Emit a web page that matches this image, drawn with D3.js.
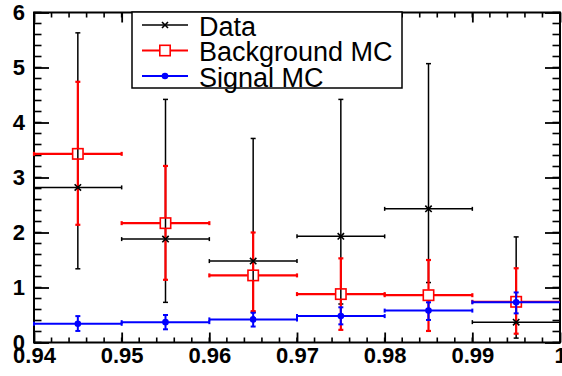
<!DOCTYPE html>
<html><head><meta charset="utf-8">
<script src="https://cdn.jsdelivr.net/npm/d3@7"></script>
<style>
html,body{margin:0;padding:0;background:#fff;}
svg{display:block;}
text{font-family:"Liberation Sans",Arial,Helvetica,sans-serif;}
</style></head>
<body>
<svg id="c" width="562" height="376"></svg>
<script>
// ---- data ----
const binEdges = [0.94, 0.95, 0.96, 0.97, 0.98, 0.99, 1.0];
const dataY  = [2.82, 1.88, 1.48, 1.93, 2.43, 0.37];
const dataHi = [5.63, 4.42, 3.71, 4.42, 5.07, 1.92];
const dataLo = [1.34, 0.73, 0.55, 0.70, 1.09, 0.08];
const bkgY   = [3.43, 2.17, 1.22, 0.88, 0.86, 0.74];
const bkgHi  = [4.74, 3.21, 2.00, 1.53, 1.50, 1.35];
const bkgLo  = [2.14, 1.14, 0.57, 0.23, 0.21, 0.16];
const sigY   = [0.34, 0.37, 0.42, 0.48, 0.58, 0.73];
const sigHi  = [0.48, 0.50, 0.54, 0.64, 0.73, 0.91];
const sigLo  = [0.21, 0.24, 0.29, 0.33, 0.41, 0.53];
const xTickValues = [0.94, 0.95, 0.96, 0.97, 0.98, 0.99, 1.0];
const xTickLabels = ["0.94", "0.95", "0.96", "0.97", "0.98", "0.99", "1"];
const yTickValues = [0, 1, 2, 3, 4, 5, 6];
const yTickLabels = ["0", "1", "2", "3", "4", "5", "6"];
const legendLabels = ["Data", "Background MC", "Signal MC"];

// ---- layout ----
const L = 34, R = 560, T = 12.5, B = 342.5;
const svg = d3.select("#c");
const x = d3.scaleLinear().domain([0.94, 1.0]).range([L, R]);
const y = d3.scaleLinear().domain([0, 6]).range([B, T]);

const xMinor = d3.range(0, 31).map(i => 0.94 + i * 0.002);
const yMinor = d3.range(0, 31).map(i => i * 0.2);

// minor ticks
const g = svg.append("g");
function ticks(vals, len, orient) {
  vals.forEach(v => {
    if (orient === "b") g.append("line").attr("x1", x(v)).attr("x2", x(v)).attr("y1", B).attr("y2", B - len);
    if (orient === "t") g.append("line").attr("x1", x(v)).attr("x2", x(v)).attr("y1", T).attr("y2", T + len);
    if (orient === "l") g.append("line").attr("y1", y(v)).attr("y2", y(v)).attr("x1", L).attr("x2", L + len);
    if (orient === "r") g.append("line").attr("y1", y(v)).attr("y2", y(v)).attr("x1", R).attr("x2", R - len);
  });
}
ticks(xMinor, 5, "b"); ticks(xMinor, 5, "t");
ticks(yMinor, 7.5, "l"); ticks(yMinor, 7.5, "r");
g.selectAll("line").attr("stroke", "#000").attr("stroke-width", 1.6);

// major axes via d3
const xAxis = svg.append("g").attr("transform", `translate(0,${B})`)
  .call(d3.axisBottom(x).tickValues(xTickValues).tickSize(-10).tickPadding(5)
    .tickFormat((d, i) => xTickLabels[i]));
const xAxisTop = svg.append("g").attr("transform", `translate(0,${T})`)
  .call(d3.axisTop(x).tickValues(xTickValues).tickSize(-10).tickFormat(""));
const yAxis = svg.append("g").attr("transform", `translate(${L},0)`)
  .call(d3.axisLeft(y).tickValues(yTickValues).tickSize(-15).tickPadding(9)
    .tickFormat((d, i) => yTickLabels[i]));
const yAxisR = svg.append("g").attr("transform", `translate(${R},0)`)
  .call(d3.axisRight(y).tickValues(yTickValues).tickSize(-15).tickFormat(""));
[xAxis, xAxisTop, yAxis, yAxisR].forEach(a => {
  a.select(".domain").remove();
  a.selectAll("line").attr("stroke", "#000").attr("stroke-width", 1.8);
  a.selectAll("text").attr("font-size", 22).attr("font-weight", "bold").attr("fill", "#000")
    .attr("font-family", "'Liberation Sans',Arial,sans-serif");
});

// frame
svg.append("rect").attr("x", L).attr("y", T).attr("width", R - L).attr("height", B - T)
  .attr("fill", "none").attr("stroke", "#000").attr("stroke-width", 2);

// ---- error bars ----
const plot = svg.append("g");
function errBars(vals, hi, lo, color, sw, gap) {
  const gg = plot.append("g").attr("stroke", color).attr("stroke-width", sw).attr("fill", "none");
  vals.forEach((v, i) => {
    const x0 = x(binEdges[i]), x1 = x(binEdges[i + 1]);
    const xc = x((binEdges[i] + binEdges[i + 1]) / 2);
    const yc = y(v), yh = y(hi[i]), yl = y(lo[i]);
    // horizontal
    gg.append("line").attr("x1", x0).attr("x2", xc - gap).attr("y1", yc).attr("y2", yc);
    gg.append("line").attr("x1", xc + gap).attr("x2", x1).attr("y1", yc).attr("y2", yc);
    // vertical
    gg.append("line").attr("x1", xc).attr("x2", xc).attr("y1", yh).attr("y2", yc - gap);
    gg.append("line").attr("x1", xc).attr("x2", xc).attr("y1", yc + gap).attr("y2", yl);
    // caps
    [x0, x1].forEach(xx => { if (xx < R - 1) gg.append("line").attr("x1", xx).attr("x2", xx).attr("y1", yc - 2).attr("y2", yc + 2); });
    [yh, yl].forEach(yy => gg.append("line").attr("x1", xc - 2.5).attr("x2", xc + 2.5).attr("y1", yy).attr("y2", yy));
  });
}
errBars(dataY, dataHi, dataLo, "#000", 1.5, 0);
errBars(bkgY, bkgHi, bkgLo, "#ff0000", 2.2, 5.5);
// bkg markers (open squares)
bkgY.forEach((v, i) => {
  const xc = x((binEdges[i] + binEdges[i + 1]) / 2);
  plot.append("rect").attr("x", xc - 5.2).attr("y", y(v) - 5.2).attr("width", 10.4).attr("height", 10.4)
    .attr("fill", "none").attr("stroke", "#ff0000").attr("stroke-width", 1.6);
});
errBars(sigY, sigHi, sigLo, "#0000ff", 2, 0);
sigY.forEach((v, i) => {
  const xc = x((binEdges[i] + binEdges[i + 1]) / 2);
  plot.append("circle").attr("cx", xc).attr("cy", y(v)).attr("r", 3.3).attr("fill", "#0000ff");
});
// data markers (x)
function xMark(sel, cx, cy, s) {
  sel.append("path").attr("d", `M${cx - s},${cy - s}L${cx + s},${cy + s}M${cx - s},${cy + s}L${cx + s},${cy - s}`)
    .attr("stroke", "#000").attr("stroke-width", 1.6).attr("fill", "none");
}
dataY.forEach((v, i) => {
  const xc = x((binEdges[i] + binEdges[i + 1]) / 2);
  xMark(plot, xc, y(v), 3.2);
});

// ---- legend ----
const lg = svg.append("g");
lg.append("rect").attr("x", 132).attr("y", 12).attr("width", 270).attr("height", 76)
  .attr("fill", "#fff").attr("stroke", "#000").attr("stroke-width", 1.5);
const rows = [25, 50.5, 76];
const colors = ["#000", "#ff0000", "#0000ff"];
legendLabels.forEach((t, i) => {
  const yy = rows[i];
  lg.append("line").attr("x1", 142).attr("x2", 188).attr("y1", yy).attr("y2", yy)
    .attr("stroke", colors[i]).attr("stroke-width", i === 0 ? 1.5 : 2);
  if (i === 0) xMark(lg, 165, yy, 3);
  if (i === 1) lg.append("rect").attr("x", 165 - 5.2).attr("y", yy - 5.2).attr("width", 10.4).attr("height", 10.4)
    .attr("fill", "#fff").attr("stroke", "#ff0000").attr("stroke-width", 1.6);
  if (i === 2) lg.append("circle").attr("cx", 165).attr("cy", yy).attr("r", 3.3).attr("fill", "#0000ff");
  lg.append("text").attr("x", 199).attr("y", yy + 10.5).attr("font-size", 27).attr("fill", "#000").text(t);
});
</script>
</body></html>
